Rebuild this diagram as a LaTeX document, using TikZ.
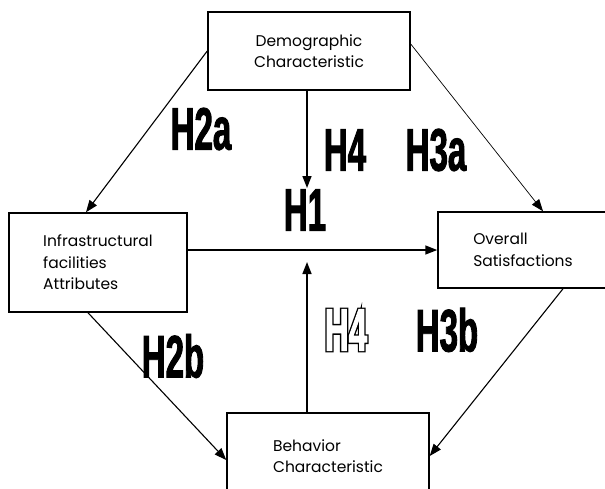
\documentclass[tikz,border=0pt]{standalone}
\usepackage{fontspec}
\setmainfont{Poppins}
\newfontfamily\hypfont[FakeStretch=0.55,FakeBold=1.5]{Liberation Sans}
\newfontfamily\hypthick[FakeStretch=0.55,FakeBold=6]{Liberation Sans}
\usetikzlibrary{arrows.meta,calc}
\tikzset{
    box/.style={
        draw=black,line width=1.5pt,inner sep=0pt,
        font=\fontsize{15.5}{21.5}\selectfont
    },
    arrow/.style={
        -{Triangle[length=12pt,width=9pt]},line width=1.6pt
    },
    slim/.style={
        -{Triangle[length=12pt,width=9pt]},line width=#1
    },
    slim/.default=1.1pt,
    hyp/.style={
        inner sep=0pt,font=\hypfont\bfseries\fontsize{60}{60}\selectfont
    },
    hypout/.style={
        inner sep=0pt,font=\hypthick\bfseries\fontsize{60}{60}\selectfont
    }
}

\begin{document}
\begin{tikzpicture}[x=1pt,y=-1pt]
\useasboundingbox (0,0) rectangle (605,488);

\node[box,align=center,minimum width=202pt,minimum height=78pt]
at (309,51) (demo) {Demographic\\Characteristic};

\node[box,align=left,minimum width=178pt,minimum height=99pt]
at (98,262.5) (infra) {Infrastructural\\facilities\\Attributes};

\node[box,align=left,minimum width=170pt,minimum height=76pt]
at (523,250) (overall) {Overall\\Satisfactions};

\node[box,align=left,minimum width=202pt,minimum height=86pt]
at (328,456) (behav) {Behavior\\Characteristic};

% moderating arrows
\coordinate (modtop) at (307,188);
\coordinate (modbot) at (307,262);

\draw[arrow] (infra.east |- overall.west) -- (overall.west);
\draw[arrow] (demo.south -| modtop) -- (modtop);
\draw[arrow] (behav.north -| modbot) -- (modbot);

\draw[slim] (demo.west) -- ([xshift=-12pt]infra.north);
\draw[slim=0.7pt] ([yshift=7pt]demo.east) -- ([xshift=20pt]overall.north);
\draw[slim] ([xshift=-10pt]infra.south) -- ([yshift=-4pt]behav.west);
\draw[slim] ([xshift=40pt]overall.south) -- (behav.east);

% hypotheses
\node[hyp] at (201,129) (h2a) {H2a};
\node[hyp] at (345,150) (h4a) {H4};
\node[hyp] at (436,150) (h3a) {H3a};
\node[hyp] at (305,210) (h1) {H1};
\node[hyp] at (173,356) (h2b) {H2b};
\node[hypout] at (346,330) (h4b) {H4};
\node[hyp,text=white] at (h4b) (h4bin) {H4};
\node[hyp] at (447,330) (h3b) {H3b};

\end{tikzpicture}
\end{document}
